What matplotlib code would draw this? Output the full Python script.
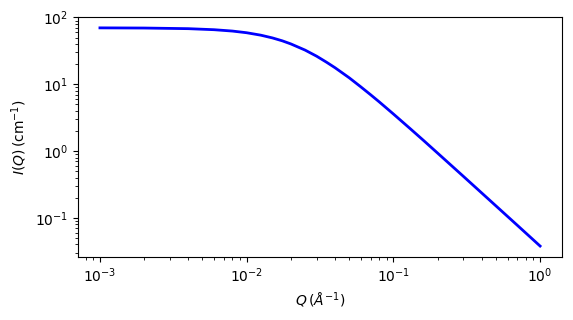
import matplotlib
matplotlib.use("Agg")
import matplotlib.pyplot as plt

# values
q = [0.001, 0.002, 0.004, 0.006, 0.008, 0.01, 0.0125, 0.015, 0.0175,
     0.02, 0.025, 0.03, 0.035, 0.04, 0.05, 0.06, 0.07, 0.08, 0.1,
     0.13, 0.16, 0.2, 0.3, 0.5, 0.7, 1.0]
intensity = [69.9, 69.5, 68.0, 65.6, 62.6, 59.1, 54.3, 49.4, 44.7,
             40.2, 32.5, 26.3, 21.4, 17.7, 12.5, 9.14, 6.96, 5.46, 3.59,
             2.17, 1.45, 0.933, 0.418, 0.151, 0.0772, 0.0378]

fig = plt.figure(figsize=(5.73, 3.2), dpi=100)
ax = fig.add_axes([0.136, 0.197, 0.845, 0.75])
ax.loglog(q, intensity, color="blue", linewidth=2)
ax.set_xlabel(r"$Q\,(\AA^{-1})$")
ax.set_ylabel(r"$I(Q)\,(\mathrm{cm}^{-1})$")

fig.savefig("out.png", dpi=100)
